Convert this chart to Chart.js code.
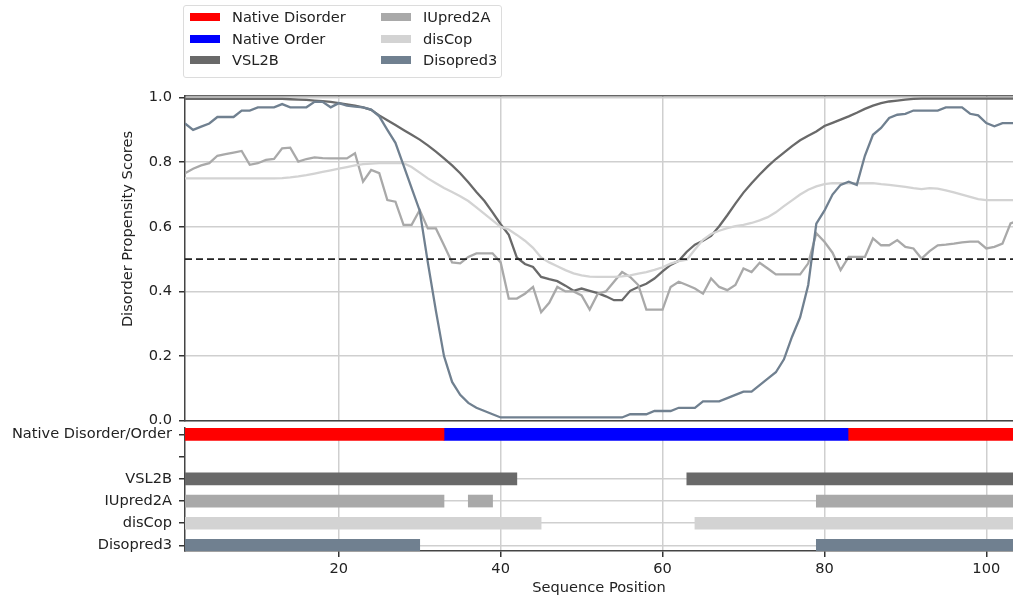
<!DOCTYPE html>
<html>
<head>
<meta charset="utf-8">
<script src="https://cdn.jsdelivr.net/npm/chart.js@4.4.1/dist/chart.umd.min.js"></script>
<style>
  body { margin: 0; background: #fff; font-family: 'DejaVu Sans', sans-serif; }
  #wrap { position: relative; width: 1013px; height: 598px; overflow: hidden; background: #fff; }
  #scores { position: absolute; left: 0; top: 0; }
  #tracks { position: absolute; left: 0; top: 410px; }
  #legend { position: absolute; left: 183px; top: 5px; width: 319px; height: 73px;
            border: 1px solid #dcdcdc; border-radius: 3px; box-sizing: border-box; }
  .item { position: absolute; height: 22px; line-height: 22px; font-size: 14.6px; color: #222; white-space: nowrap; }
  .swatch { display: inline-block; width: 30px; height: 8px; vertical-align: middle; margin-right: 12px; position: relative; top: -1px; }
  #ytitle { position: absolute; left: -23px; top: 220px; width: 300px; height: 18px; line-height: 18px;
            text-align: center; font-size: 14.6px; color: #222; transform: rotate(-90deg); white-space: nowrap; }
</style>
</head>
<body>
<div id="wrap">
  <canvas id="scores" width="1013" height="440"></canvas>
  <canvas id="tracks" width="1013" height="188"></canvas>
  <div id="legend"></div>
  <div id="ytitle">Disorder Propensity Scores</div>
</div>
<script>
// sequence positions
const positions = [
  1, 2, 3, 4, 5, 6, 7, 8, 9, 10, 11, 12, 13, 14, 15, 16, 17, 18, 19, 20,
  21, 22, 23, 24, 25, 26, 27, 28, 29, 30, 31, 32, 33, 34, 35, 36, 37, 38, 39, 40,
  41, 42, 43, 44, 45, 46, 47, 48, 49, 50, 51, 52, 53, 54, 55, 56, 57, 58, 59, 60,
  61, 62, 63, 64, 65, 66, 67, 68, 69, 70, 71, 72, 73, 74, 75, 76, 77, 78, 79, 80,
  81, 82, 83, 84, 85, 86, 87, 88, 89, 90, 91, 92, 93, 94, 95, 96, 97, 98, 99, 100,
  101, 102, 103, 104
];

// disorder propensity scores per predictor
const vsl2b = [
  0.996, 0.996, 0.996, 0.996, 0.996, 0.996, 0.996, 0.996, 0.996, 0.996,
  0.996, 0.996, 0.996, 0.995, 0.994, 0.993, 0.991, 0.989, 0.987, 0.983,
  0.979, 0.975, 0.970, 0.962, 0.945, 0.930, 0.915, 0.900, 0.885, 0.870,
  0.852, 0.833, 0.812, 0.790, 0.766, 0.738, 0.708, 0.680, 0.645, 0.608,
  0.575, 0.505, 0.485, 0.476, 0.445, 0.438, 0.432, 0.418, 0.402, 0.409,
  0.402, 0.395, 0.385, 0.373, 0.373, 0.402, 0.414, 0.424, 0.440, 0.462,
  0.482, 0.495, 0.523, 0.545, 0.557, 0.572, 0.602, 0.636, 0.672, 0.706,
  0.735, 0.762, 0.787, 0.810, 0.830, 0.850, 0.868, 0.882, 0.895, 0.912,
  0.922, 0.932, 0.942, 0.953, 0.965, 0.975, 0.983, 0.988, 0.991, 0.994,
  0.996, 0.997, 0.997, 0.997, 0.997, 0.997, 0.997, 0.997, 0.997, 0.997,
  0.997, 0.997, 0.997, 0.997
];
const iupred2a = [
  0.766, 0.780, 0.790, 0.797, 0.820, 0.825, 0.830, 0.835, 0.792, 0.797,
  0.807, 0.810, 0.843, 0.845, 0.802, 0.810, 0.815, 0.813, 0.812, 0.812,
  0.812, 0.828, 0.740, 0.776, 0.766, 0.683, 0.678, 0.606, 0.606, 0.652,
  0.595, 0.595, 0.543, 0.490, 0.487, 0.507, 0.518, 0.518, 0.518, 0.490,
  0.378, 0.378, 0.393, 0.414, 0.336, 0.365, 0.414, 0.400, 0.400, 0.388,
  0.344, 0.393, 0.400, 0.430, 0.460, 0.445, 0.420, 0.344, 0.344, 0.344,
  0.414, 0.430, 0.420, 0.409, 0.393, 0.440, 0.414, 0.404, 0.420, 0.471,
  0.460, 0.489, 0.471, 0.453, 0.453, 0.453, 0.453, 0.487, 0.580, 0.554,
  0.520, 0.466, 0.507, 0.507, 0.507, 0.564, 0.543, 0.543, 0.559, 0.538,
  0.533, 0.502, 0.525, 0.543, 0.545, 0.548, 0.552, 0.554, 0.554, 0.533,
  0.538, 0.548, 0.611, 0.620
];
const discop = [
  0.750, 0.750, 0.750, 0.750, 0.750, 0.750, 0.750, 0.750, 0.750, 0.750,
  0.750, 0.750, 0.751, 0.753, 0.756, 0.760, 0.765, 0.770, 0.775, 0.780,
  0.785, 0.790, 0.794, 0.796, 0.797, 0.797, 0.797, 0.797, 0.785, 0.768,
  0.750, 0.735, 0.720, 0.708, 0.695, 0.680, 0.660, 0.640, 0.620, 0.600,
  0.592, 0.575, 0.557, 0.535, 0.505, 0.490, 0.478, 0.466, 0.456, 0.450,
  0.446, 0.445, 0.445, 0.445, 0.447, 0.450, 0.455, 0.460, 0.467, 0.475,
  0.486, 0.494, 0.498, 0.530, 0.560, 0.578, 0.588, 0.596, 0.602, 0.606,
  0.612, 0.620, 0.630, 0.645, 0.664, 0.682, 0.700, 0.715, 0.725, 0.732,
  0.735, 0.735, 0.735, 0.735, 0.735, 0.735, 0.732, 0.730, 0.727, 0.724,
  0.720, 0.717, 0.720, 0.718, 0.713, 0.707, 0.700, 0.693, 0.686, 0.683,
  0.683, 0.683, 0.683, 0.683
];
const disopred3 = [
  0.920, 0.900, 0.910, 0.920, 0.940, 0.940, 0.940, 0.960, 0.960, 0.970,
  0.970, 0.970, 0.980, 0.970, 0.970, 0.970, 0.987, 0.987, 0.970, 0.983,
  0.975, 0.972, 0.970, 0.963, 0.942, 0.900, 0.860, 0.790, 0.720, 0.650,
  0.490, 0.340, 0.200, 0.120, 0.080, 0.055, 0.040, 0.030, 0.020, 0.010,
  0.010, 0.010, 0.010, 0.010, 0.010, 0.010, 0.010, 0.010, 0.010, 0.010,
  0.010, 0.010, 0.010, 0.010, 0.010, 0.020, 0.020, 0.020, 0.030, 0.030,
  0.030, 0.040, 0.040, 0.040, 0.060, 0.060, 0.060, 0.070, 0.080, 0.090,
  0.090, 0.110, 0.130, 0.150, 0.190, 0.260, 0.320, 0.420, 0.610, 0.650,
  0.700, 0.730, 0.740, 0.730, 0.820, 0.885, 0.906, 0.937, 0.947, 0.950,
  0.960, 0.960, 0.960, 0.960, 0.970, 0.970, 0.970, 0.950, 0.945, 0.921,
  0.911, 0.921, 0.921, 0.921
];
const threshold = 0.5;

// disordered regions [start, end] per track
const nativeDisorder = [[1, 33], [83, 104]];
const nativeOrder = [[33, 83]];
const vsl2bRegions = [[1, 42], [63, 104]];
const iupred2aRegions = [[1, 33], [36, 39], [79, 104]];
const discopRegions = [[1, 45], [64, 104]];
const disopred3Regions = [[1, 30], [79, 104]];

// axes
const xMin = 1, xMax = 103.3;
const xTicks = [20, 40, 60, 80, 100];
const yTicks = [0, 0.2, 0.4, 0.6, 0.8, 1.0];
const trackLabels = ['Native Disorder/Order', '', 'VSL2B', 'IUpred2A', 'disCop', 'Disopred3'];
const legendLabels = ['Native Disorder', 'Native Order', 'VSL2B', 'IUpred2A', 'disCop', 'Disopred3'];

const colors = {
  'Native Disorder': '#ff0000',
  'Native Order': '#0000ff',
  'VSL2B': '#696969',
  'IUpred2A': '#a9a9a9',
  'disCop': '#d3d3d3',
  'Disopred3': '#708090'
};
const gridColor = '#cfcfcf';
const spineColor = '#444';

Chart.defaults.font.family = "'DejaVu Sans', sans-serif";
Chart.defaults.font.size = 14.6;
Chart.defaults.color = '#222';

// legend
const legendBox = document.getElementById('legend');
legendLabels.forEach(function (name, i) {
  const item = document.createElement('div');
  item.className = 'item';
  item.style.left = (i < 3 ? 6 : 197) + 'px';
  item.style.top = ((i % 3) * 21.7) + 'px';
  item.innerHTML = '<span class="swatch" style="background:' + colors[name] + '"></span>' + name;
  legendBox.appendChild(item);
});

function lineSet(label, values, order) {
  return {
    label: label, data: values, borderColor: colors[label], borderWidth: 2.3,
    pointRadius: 0, tension: 0, fill: false, order: order
  };
}

// score curves
new Chart(document.getElementById('scores'), {
  type: 'line',
  data: {
    labels: positions,
    datasets: [
      lineSet('VSL2B', vsl2b, 4),
      lineSet('IUpred2A', iupred2a, 3),
      lineSet('disCop', discop, 2),
      lineSet('Disopred3', disopred3, 1),
      {
        label: 'threshold', data: [{x: xMin, y: threshold}, {x: xMax, y: threshold}],
        borderColor: '#222', borderWidth: 1.8, borderDash: [7, 4],
        pointRadius: 0, fill: false, order: 0
      }
    ]
  },
  options: {
    responsive: false,
    animation: false,
    layout: { padding: { left: 114, top: 96, right: 0, bottom: 19.3 } },
    plugins: { legend: { display: false }, tooltip: { enabled: false } },
    scales: {
      x: {
        type: 'linear', min: xMin, max: xMax,
        afterBuildTicks: function (s) { s.ticks = xTicks.map(function (v) { return {value: v}; }); },
        afterFit: function (s) { s.height = 0; },
        ticks: { display: false },
        grid: { color: gridColor, lineWidth: 1.5, drawTicks: false },
        border: { color: spineColor, width: 1.5 }
      },
      xTop: {
        type: 'linear', position: 'top', min: xMin, max: xMax,
        afterFit: function (s) { s.height = 0; },
        ticks: { display: false },
        grid: { display: false, drawTicks: false },
        border: { color: '#666', width: 1.5 }
      },
      y: {
        min: 0, max: 1.005,
        afterBuildTicks: function (s) { s.ticks = yTicks.map(function (v) { return {value: v}; }); },
        afterFit: function (s) { s.width = 71; },
        ticks: { padding: 7, callback: function (v) { return v.toFixed(1); } },
        grid: { color: gridColor, lineWidth: 1.5, tickLength: 6, tickColor: '#333' },
        border: { color: spineColor, width: 1.5 }
      }
    }
  }
});

function barSet(label, regions, row, color) {
  return {
    label: label,
    data: regions.map(function (r) { return {x: r, y: row}; }),
    backgroundColor: color, borderWidth: 0, barThickness: 12, grouped: false
  };
}

const rowOf = function (name) { return trackLabels.indexOf(name); };

// region tracks
new Chart(document.getElementById('tracks'), {
  type: 'bar',
  data: {
    datasets: [
      barSet('Native Disorder', nativeDisorder, 0, colors['Native Disorder']),
      barSet('Native Order', nativeOrder, 0, colors['Native Order']),
      barSet('VSL2B', vsl2bRegions, rowOf('VSL2B'), colors['VSL2B']),
      barSet('IUpred2A', iupred2aRegions, rowOf('IUpred2A'), colors['IUpred2A']),
      barSet('disCop', discopRegions, rowOf('disCop'), colors['disCop']),
      barSet('Disopred3', disopred3Regions, rowOf('Disopred3'), colors['Disopred3'])
    ]
  },
  options: {
    indexAxis: 'y',
    responsive: false,
    animation: false,
    layout: { padding: { left: 0, top: 18, right: 0, bottom: 0 } },
    plugins: { legend: { display: false }, tooltip: { enabled: false } },
    scales: {
      x: {
        type: 'linear', min: xMin, max: xMax,
        afterBuildTicks: function (s) { s.ticks = xTicks.map(function (v) { return {value: v}; }); },
        afterFit: function (s) { s.height = 47; },
        ticks: { padding: 3, maxRotation: 0 },
        grid: { color: gridColor, lineWidth: 1.5, tickLength: 6, tickColor: '#333' },
        border: { color: spineColor, width: 1.5 },
        title: { display: true, text: 'Sequence Position', padding: { top: 2, bottom: 1.5 } }
      },
      y: {
        type: 'linear', reverse: true, min: -0.29, max: 5.25, offset: false,
        afterBuildTicks: function (s) { s.ticks = trackLabels.map(function (l, i) { return {value: i}; }); },
        afterFit: function (s) { s.width = 185; },
        ticks: { padding: 7, callback: function (v) { return trackLabels[v]; } },
        grid: {
          offset: false, lineWidth: 1.5, tickLength: 6, tickColor: '#333',
          color: function (c) { return c.tick && c.tick.value >= 2 ? gridColor : 'rgba(0,0,0,0)'; }
        },
        border: { color: spineColor, width: 1.5 }
      }
    }
  }
});
</script>
</body>
</html>
